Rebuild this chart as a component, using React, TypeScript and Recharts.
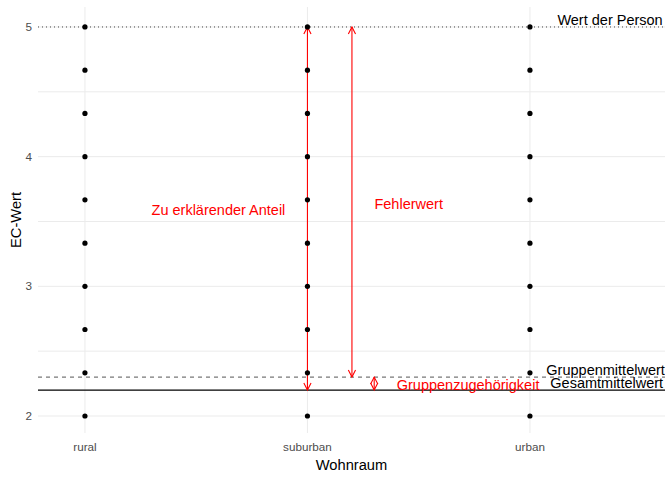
import {
  ComposedChart,
  Scatter,
  XAxis,
  YAxis,
  CartesianGrid,
  ReferenceLine,
  Label,
} from "recharts";

// categories on the x axis
const categories = ["rural", "suburban", "urban"];

// EC values per Wohnraum group
const ruralValues = [2, 2.333, 2.667, 3, 3.333, 3.667, 4, 4.333, 4.667, 5];
const suburbanValues = [2, 2.333, 2.667, 3, 3.333, 3.667, 4, 4.333, 4.667, 5];
const urbanValues = [2, 2.333, 2.667, 3, 3.333, 3.667, 4, 4.333, 4.667, 5];

const xTicks = [1, 2, 3];
const yTicks = [2, 2.5, 3, 3.5, 4, 4.5, 5];

// reference values
const personValue = 5;
const groupMean = 2.3;
const grandMean = 2.2;

// arrows: x position, from, to
const arrows = [
  { x: 2, from: grandMean, to: personValue },
  { x: 2.2, from: groupMean, to: personValue },
  { x: 2.3, from: grandMean, to: groupMean },
];

// text annotations (data coordinates)
const notes = [
  { x: 3.36, y: 5.05, text: "Wert der Person", color: "#000000" },
  { x: 3.34, y: 2.353, text: "Gruppenmittelwert", color: "#000000" },
  { x: 3.345, y: 2.254, text: "Gesamtmittelwert", color: "#000000" },
  { x: 2.722, y: 2.24, text: "Gruppenzugehörigkeit", color: "#FF0000" },
  { x: 2.455, y: 3.638, text: "Fehlerwert", color: "#FF0000" },
  { x: 1.6, y: 3.585, text: "Zu erklärender Anteil", color: "#FF0000" },
];

const groups = [ruralValues, suburbanValues, urbanValues];
const points = groups.flatMap((vals, i) => vals.map((v) => ({ x: i + 1, y: v })));

const FONT = "'Liberation Sans', Arial, sans-serif";
const RED = "#FF0000";

function ArrowShape(props: any) {
  const { x1, y1, x2, y2 } = props;
  const len = 7;
  const spread = 3.6;
  const top = Math.min(y1, y2);
  const bottom = Math.max(y1, y2);
  return (
    <g>
      <line x1={x1} y1={y1} x2={x2} y2={y2} stroke={RED} strokeWidth={1.1} />
      <polyline
        points={`${x1 - spread},${top + len} ${x1},${top} ${x1 + spread},${top + len}`}
        fill="none"
        stroke={RED}
        strokeWidth={1.1}
      />
      <polyline
        points={`${x1 - spread},${bottom - len} ${x1},${bottom} ${x1 + spread},${bottom - len}`}
        fill="none"
        stroke={RED}
        strokeWidth={1.1}
      />
    </g>
  );
}

const dot = (p: any) => <circle cx={p.cx} cy={p.cy} r={2.6} fill="#000000" />;

const noteShape = (p: any) => (
  <text
    x={p.cx}
    y={p.cy}
    textAnchor="middle"
    dominantBaseline="central"
    fontFamily={FONT}
    fontSize={14.5}
    fill={p.payload.color}
  >
    {p.payload.text}
  </text>
);

export default function App() {
  return (
    <div style={{ position: "absolute", left: 0, top: 0, width: 672, height: 480, background: "#fff" }}>
      <ComposedChart width={672} height={480} margin={{ top: 7, right: 7, bottom: 0, left: 0 }}>
        <CartesianGrid stroke="#ebebeb" strokeWidth={1} syncWithTicks />
        <XAxis
          type="number"
          dataKey="x"
          domain={[0.789, 3.607]}
          ticks={xTicks}
          tickFormatter={(v: number) => categories[v - 1] ?? ""}
          allowDataOverflow
          height={47}
          axisLine={false}
          tickLine={false}
          tickSize={0}
          tickMargin={10}
          tick={{ fontSize: 11.7, fill: "#4d4d4d", fontFamily: FONT }}
        >
          <Label
            content={(p: any) => {
              const vb = p.viewBox;
              return (
                <text
                  x={vb.x + vb.width / 2}
                  y={465}
                  textAnchor="middle"
                  dominantBaseline="central"
                  fontFamily={FONT}
                  fontSize={14.7}
                  fill="#000"
                >
                  Wohnraum
                </text>
              );
            }}
          />
        </XAxis>
        <YAxis
          type="number"
          dataKey="y"
          domain={[1.869, 5.154]}
          ticks={yTicks}
          tickFormatter={(v: number) => (Number.isInteger(v) ? String(v) : "")}
          allowDataOverflow
          width={38}
          axisLine={false}
          tickLine={false}
          tickSize={0}
          tickMargin={6}
          tick={{ fontSize: 11.7, fill: "#4d4d4d", fontFamily: FONT }}
        >
          <Label
            content={(p: any) => {
              const vb = p.viewBox;
              const cy = vb.y + vb.height / 2;
              return (
                <text
                  x={16}
                  y={cy}
                  transform={`rotate(-90 16 ${cy})`}
                  textAnchor="middle"
                  dominantBaseline="central"
                  fontFamily={FONT}
                  fontSize={14.7}
                  fill="#000"
                >
                  EC-Wert
                </text>
              );
            }}
          />
        </YAxis>
        <ReferenceLine y={personValue} stroke="#444" strokeWidth={1} strokeDasharray="1 3" />
        <ReferenceLine y={groupMean} stroke="#555" strokeWidth={1} strokeDasharray="4 4" />
        <ReferenceLine y={grandMean} stroke="#000" strokeWidth={1.1} />
        {arrows.map((a, i) => (
          <ReferenceLine
            key={i}
            segment={[
              { x: a.x, y: a.from },
              { x: a.x, y: a.to },
            ]}
            shape={ArrowShape}
          />
        ))}
        <Scatter data={points} dataKey="y" shape={dot} isAnimationActive={false} />
        <Scatter data={notes} dataKey="y" shape={noteShape} isAnimationActive={false} />
      </ComposedChart>
    </div>
  );
}
